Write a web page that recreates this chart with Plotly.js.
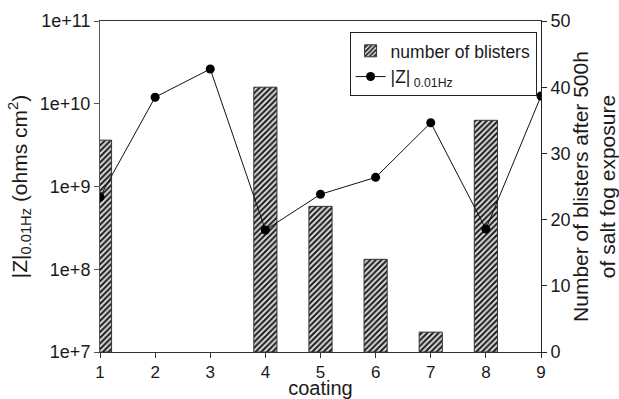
<!DOCTYPE html>
<html>
<head>
<meta charset="utf-8">
<script src="https://cdn.plot.ly/plotly-3.0.1.min.js"></script>
<style>html,body{margin:0;padding:0;background:#fff}#chart{width:619px;height:399px}</style>
</head>
<body>
<div id="chart"></div>
<script>
const coatings = [1, 2, 3, 4, 5, 6, 7, 8, 9];
const blisters = [32, null, null, 40, 22, 14, 3, 35, null];
const impedance = [7.5e8, 1.2e10, 2.63e10, 2.98e8, 8.05e8, 1.29e9, 5.9e9, 3.06e8, 1.24e10];
const logTickVals = [1e7, 1e8, 1e9, 1e10, 1e11];
const logTickText = ['1e+7', '1e+8', '1e+9', '1e+10', '1e+11'];

const font = {family: 'Liberation Sans, Arial, sans-serif', color: '#1a1a1a'};
const f = s => Object.assign({size: s}, font);

const traces = [
  {
    type: 'bar', x: coatings, y: blisters, width: 0.42,
    name: 'number of blisters', xaxis: 'x', yaxis: 'y',
    marker: {color: '#ffffff', line: {color: '#333', width: 1},
      pattern: {shape: '/', fgcolor: '#1a1a1a', bgcolor: '#dcdcdc', size: 4, solidity: 0.5}}
  },
  {
    type: 'scatter', mode: 'lines+markers', x: coatings, y: impedance,
    name: '|Z|<sub> 0.01Hz</sub>', xaxis: 'x', yaxis: 'y2',
    line: {color: '#111', width: 1}, marker: {color: '#000', size: 9}
  }
];

const layout = {
  width: 619, height: 399,
  margin: {l: 100, r: 78, t: 21, b: 47},
  paper_bgcolor: '#fff', plot_bgcolor: '#fff',
  font: f(18),
  showlegend: true,
  legend: {x: 0.566, y: 0.967, xanchor: 'left', yanchor: 'top',
    bordercolor: '#222', borderwidth: 1, bgcolor: '#fff',
    font: f(17.5), tracegroupgap: 0},
  xaxis: {range: [1, 9], tickvals: coatings, ticks: 'outside', ticklen: 5,
    tickcolor: '#333', showline: true, linecolor: '#333', mirror: true,
    showgrid: false, zeroline: false, tickfont: f(17),
    title: {text: 'coating', font: f(20), standoff: 6}},
  yaxis: {side: 'right', range: [0, 50], dtick: 10, ticks: 'outside', ticklen: 5,
    tickcolor: '#222', showline: true, linecolor: '#222', showgrid: false, zeroline: false,
    tickfont: f(18),
    title: {text: 'Number of blisters after 500h<br>of salt fog exposure',
      font: f(21), standoff: 9}},
  yaxis2: {type: 'log', overlaying: 'y', side: 'left', range: [7, 11],
    tickvals: logTickVals, ticktext: logTickText, ticks: 'outside', ticklen: 5,
    tickcolor: '#555', showline: true, linecolor: '#555', showgrid: false, zeroline: false,
    tickfont: f(18),
    title: {text: '|Z|<sub>0.01Hz</sub> (ohms cm<sup>2</sup>)',
      font: f(21), standoff: 6}}
};

Plotly.newPlot('chart', traces, layout, {displayModeBar: false, staticPlot: true});
</script>
</body>
</html>
